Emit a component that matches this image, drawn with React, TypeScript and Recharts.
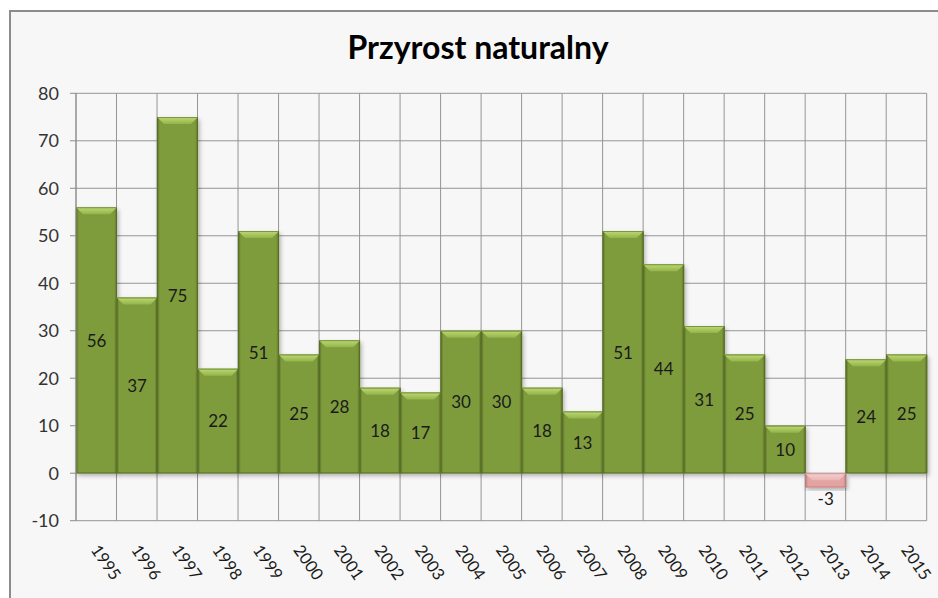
import React from "react";
import { BarChart, Bar, XAxis, YAxis, CartesianGrid, LabelList } from "recharts";

const years: string[] = [
  "1995", "1996", "1997", "1998", "1999", "2000", "2001", "2002", "2003", "2004", "2005",
  "2006", "2007", "2008", "2009", "2010", "2011", "2012", "2013", "2014", "2015",
];
const growth: number[] = [56, 37, 75, 22, 51, 25, 28, 18, 17, 30, 30, 18, 13, 51, 44, 31, 25, 10, -3, 24, 25];
const yTicks: number[] = [-10, 0, 10, 20, 30, 40, 50, 60, 70, 80];

const data = years.map((year, i) => ({ year, value: growth[i] }));

const FONT = "Lato, 'Open Sans', sans-serif";

const GREEN = { edge: "#5a7026", body: "#7f9c3d", bevTop: "#bddb74", bevBot: "#94b34b", line: "#536823" };
const PINK = { edge: "#c07e7e", body: "#e3a3a3", bevTop: "#f7d0d0", bevBot: "#ebb4b4", line: "#b57272" };

const BevelBar = (props: any) => {
  const { x, y, width, height, value, index } = props;
  if (width == null || height == null) return null;
  const top = Math.min(y, y + height);
  const h = Math.abs(height);
  const w = width;
  const c = value < 0 ? PINK : GREEN;
  const b = Math.max(0, Math.min(7, h / 2, w / 4));
  const id = `b${index}`;
  return (
    <g>
      <defs>
        <linearGradient id={`${id}h`} x1="0" y1="0" x2="1" y2="0">
          <stop offset="0" stopColor={c.edge} />
          <stop offset="0.07" stopColor={c.body} />
          <stop offset="0.93" stopColor={c.body} />
          <stop offset="1" stopColor={c.edge} />
        </linearGradient>
        <linearGradient id={`${id}v`} x1="0" y1="0" x2="0" y2="1">
          <stop offset="0" stopColor={c.bevTop} />
          <stop offset="1" stopColor={c.bevBot} />
        </linearGradient>
        <filter id={`${id}s`} x="-20%" y="-20%" width="140%" height="140%">
          <feDropShadow dx="1.5" dy="2.5" stdDeviation="2" floodColor="#000" floodOpacity="0.3" />
        </filter>
      </defs>
      <rect x={x} y={top} width={w} height={h} fill={c.body} filter={`url(#${id}s)`} />
      <rect x={x} y={top} width={w} height={h} fill={`url(#${id}h)`} />
      <polygon
        points={`${x},${top} ${x + w},${top} ${x + w - b},${top + b} ${x + b},${top + b}`}
        fill={`url(#${id}v)`}
      />
      <rect x={x + 0.5} y={top + 0.5} width={w - 1} height={Math.max(0, h - 1)} fill="none" stroke={c.line} strokeOpacity={0.6} />
    </g>
  );
};

const ValueLabel = (props: any) => {
  const { x, y, width, height, value } = props;
  const top = Math.min(y, y + height);
  const h = Math.abs(height);
  const cx = x + width / 2;
  const cy = value < 0 ? top + h + 11 : top + h / 2;
  return (
    <text x={cx} y={cy} textAnchor="middle" dominantBaseline="central" fontFamily={FONT} fontSize={17} fill="#1a1a1a">
      {value}
    </text>
  );
};

const YearTick = (props: any) => {
  const { x, y, payload } = props;
  const ax = x - 6;
  const ay = y + 29.3;
  return (
    <text x={ax} y={ay} transform={`rotate(55, ${ax}, ${ay})`} textAnchor="start" fontFamily={FONT} fontSize={16.5} fill="#1a1a1a">
      {payload.value}
    </text>
  );
};

export default function App() {
  return (
    <div
      style={{
        position: "absolute",
        left: 9,
        top: 10,
        width: 929,
        height: 588,
        boxSizing: "border-box",
        borderLeft: "2px solid #8c8c8c",
        borderTop: "2px solid #8c8c8c",
        background: "#f7f7f7",
        overflow: "hidden",
      }}
    >
      <div
        style={{
          position: "absolute",
          left: 467,
          top: 17,
          transform: "translateX(-50%)",
          whiteSpace: "nowrap",
          fontFamily: FONT,
          fontWeight: 700,
          fontSize: 32,
          lineHeight: "36px",
          color: "#000",
        }}
      >
        Przyrost naturalny
      </div>
      <div style={{ position: "absolute", left: 0, top: 0 }}>
        <BarChart
          width={927}
          height={586}
          data={data}
          margin={{ top: 81.3, right: 11.3, left: 0, bottom: 0 }}
          barCategoryGap={0}
          barGap={0}
        >
          <CartesianGrid
            stroke="#959595"
            strokeWidth={1}
            verticalCoordinatesGenerator={(p: any) => {
              const off = p.offset;
              return years.map((_, i) => off.left + (i * off.width) / years.length).concat(off.left + off.width);
            }}
          />
          <XAxis
            dataKey="year"
            height={77.3}
            axisLine={false}
            tickLine={false}
            tickSize={0}
            tickMargin={0}
            interval={0}
            tick={<YearTick />}
          />
          <YAxis
            width={65}
            domain={[-10, 80]}
            ticks={yTicks}
            interval={0}
            axisLine={{ stroke: "#8c8c8c" }}
            tickLine={{ stroke: "#8c8c8c" }}
            tickSize={6}
            tickMargin={11}
            tick={{ fontFamily: FONT, fontSize: 18, fill: "#333" }}
          />
          <Bar dataKey="value" isAnimationActive={false} shape={<BevelBar />}>
            <LabelList dataKey="value" content={<ValueLabel />} />
          </Bar>
        </BarChart>
      </div>
    </div>
  );
}
